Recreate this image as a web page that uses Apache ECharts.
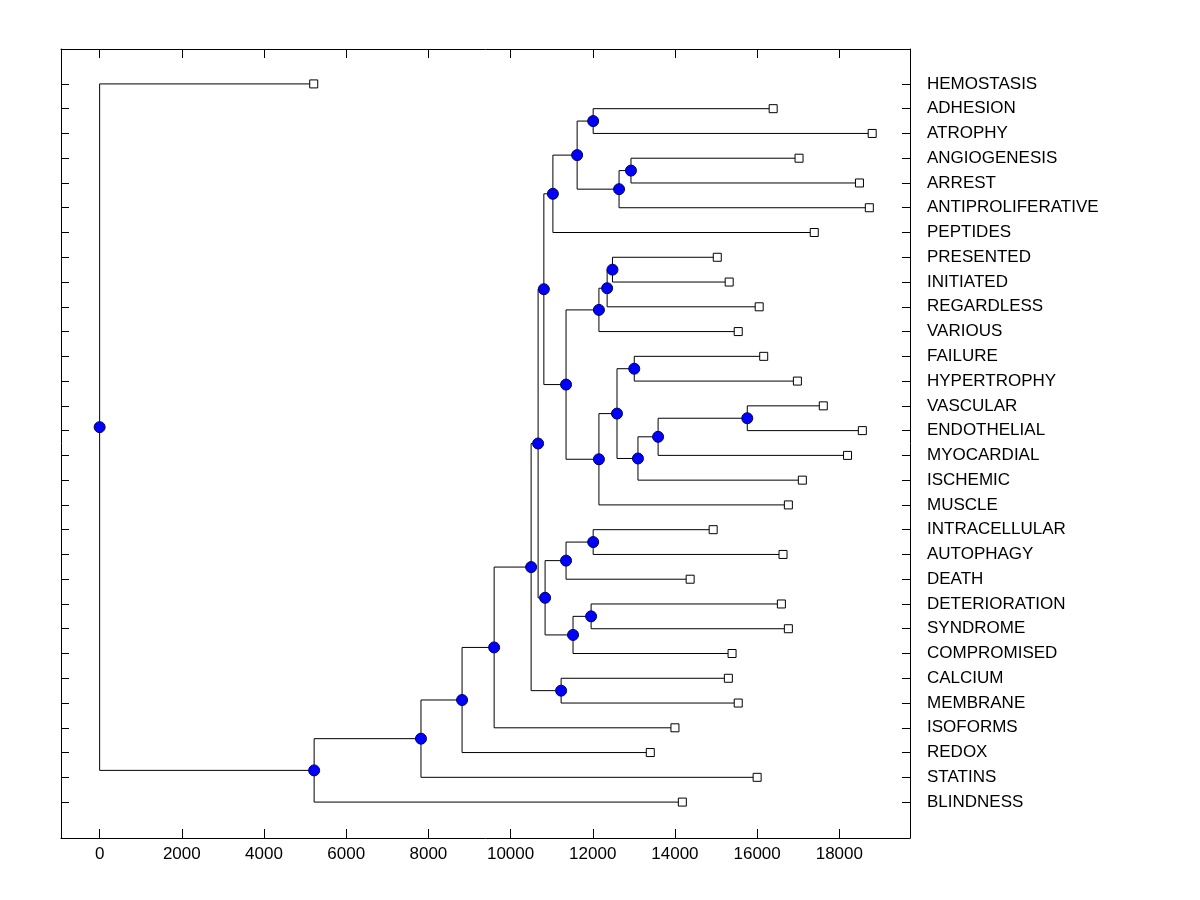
<!DOCTYPE html>
<html>
<head>
<meta charset="utf-8">
<script src="https://cdn.jsdelivr.net/npm/echarts@6/dist/echarts.min.js"></script>
<style>
  html, body { margin: 0; padding: 0; background: #fff; }
  #main { width: 1200px; height: 900px; }
</style>
</head>
<body>
<div id="main"></div>
<script>
// leaves, top to bottom
var leafNames = ['HEMOSTASIS', 'ADHESION', 'ATROPHY', 'ANGIOGENESIS', 'ARREST', 'ANTIPROLIFERATIVE',
	'PEPTIDES', 'PRESENTED', 'INITIATED', 'REGARDLESS', 'VARIOUS', 'FAILURE', 'HYPERTROPHY',
	'VASCULAR', 'ENDOTHELIAL', 'MYOCARDIAL', 'ISCHEMIC', 'MUSCLE', 'INTRACELLULAR', 'AUTOPHAGY',
	'DEATH', 'DETERIORATION', 'SYNDROME', 'COMPROMISED', 'CALCIUM', 'MEMBRANE', 'ISOFORMS',
	'REDOX', 'STATINS', 'BLINDNESS'];
var leafHeights = [5210, 16390, 18800, 17020, 18490, 18730,
	17390, 15030, 15320, 16050, 15540, 16160, 16980,
	17610, 18560, 18200, 17100, 16760, 14930, 16630,
	14370, 16590, 16760, 15390, 15300, 15540, 14000,
	13400, 16000, 14180];

// merges: node id = 30 + index; children refer to leaves (0-29) or earlier nodes
var mergeA = [1, 3, 31, 30, 33, 7, 35, 36, 11, 13, 39, 40, 38, 42, 37, 34, 18, 46, 21, 48, 47, 45, 24, 51, 53, 54, 55, 56, 0];
var mergeB = [2, 4, 5, 32, 6, 8, 9, 10, 12, 14, 15, 16, 41, 17, 43, 44, 19, 20, 22, 23, 49, 50, 25, 52, 26, 27, 28, 29, 57];
var mergeHeight = [12010, 12930, 12640, 11620, 11030, 12480, 12350, 12150, 13010, 15760, 13590, 13100, 12590, 12150, 11350,
	10810, 12010, 11350, 11960, 11520, 10840, 10670, 11230, 10500, 9600, 8820, 7820, 5220, 0];

var xTicks = [0, 2000, 4000, 6000, 8000, 10000, 12000, 14000, 16000, 18000];

var posX = leafHeights.slice();
var posY = leafNames.map(function(n, i) { return i; });
var segs = [];
var nodePts = [];
for (var k = 0; k < mergeHeight.length; k++) {
	var a = mergeA[k], b = mergeB[k], h = mergeHeight[k];
	var y = (posY[a] + posY[b]) / 2;
	posX.push(h);
	posY.push(y);
	// child a -> node -> child b, as one elbow polyline
	segs.push({ coords: [[posX[a], posY[a]], [h, posY[a]], [h, posY[b]], [posX[b], posY[b]]] });
	nodePts.push([h, y]);
}
var leafPts = leafHeights.map(function(v, i) { return [v, i]; });
var rowTicks = leafNames.map(function(n, i) { return i; });

var font = 'Arial, "Liberation Sans", sans-serif';
var chart = echarts.init(document.getElementById('main'));

var yBase = {
	type: 'value', inverse: true, min: -1.41, max: 30.45,
	splitLine: { show: false },
	axisLine: { show: true, onZero: false, lineStyle: { color: '#000', width: 1 } },
	axisTick: { show: true, inside: true, length: 8, customValues: rowTicks, lineStyle: { color: '#000' } }
};

chart.setOption({
	backgroundColor: '#fff',
	animation: false,
	grid: { left: 61, right: 290, top: 49, bottom: 62 },
	xAxis: [{
		type: 'value', position: 'bottom', min: -940, max: 19720,
		splitLine: { show: false },
		axisLine: { show: true, onZero: false, lineStyle: { color: '#000', width: 1 } },
		axisTick: { show: true, inside: true, length: 9, customValues: xTicks, lineStyle: { color: '#000' } },
		axisLabel: {
			customValues: xTicks, color: '#000', fontSize: 17, fontFamily: font, margin: 8,
			formatter: function(v) { return String(v); }
		}
	}, {
		type: 'value', position: 'top', min: -940, max: 19720,
		splitLine: { show: false },
		axisLine: { show: true, onZero: false, lineStyle: { color: '#000', width: 1 } },
		axisTick: { show: true, inside: true, length: 9, customValues: xTicks, lineStyle: { color: '#000' } },
		axisLabel: { show: false }
	}],
	yAxis: [
		Object.assign({}, yBase, { position: 'left', axisLabel: { show: false } }),
		Object.assign({}, yBase, {
			position: 'right',
			axisLabel: {
				customValues: rowTicks, color: '#000', fontSize: 17, fontFamily: font, margin: 17,
				formatter: function(v) { return leafNames[Math.round(v)]; }
			}
		})
	],
	series: [{
		type: 'lines',
		coordinateSystem: 'cartesian2d',
		polyline: true,
		silent: true,
		lineStyle: { color: '#000', width: 1, opacity: 1 },
		data: segs,
		z: 1
	}, {
		type: 'scatter',
		symbol: 'rect',
		symbolSize: 8,
		itemStyle: { color: '#fff', borderColor: '#000', borderWidth: 1, opacity: 1 },
		data: leafPts,
		z: 3
	}, {
		type: 'scatter',
		symbol: 'circle',
		symbolSize: 11,
		itemStyle: { color: '#0000ff', borderColor: '#000060', borderWidth: 1, opacity: 1 },
		data: nodePts,
		z: 4
	}]
});
</script>
</body>
</html>
